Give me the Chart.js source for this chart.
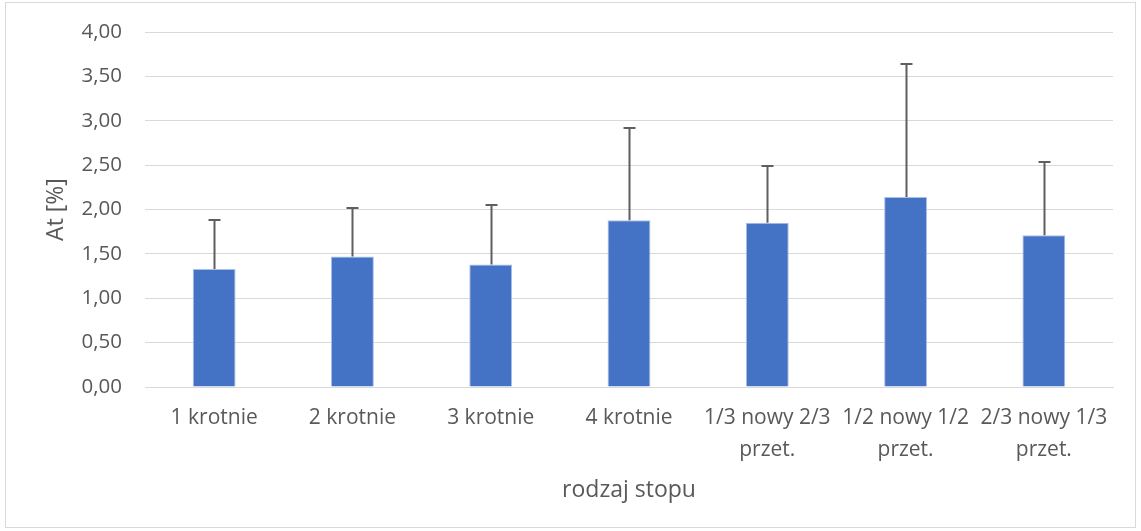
<!DOCTYPE html>
<html>
<head>
<meta charset="utf-8">
<script src="https://cdn.jsdelivr.net/npm/chart.js@4"></script>
<style>
html,body{margin:0;padding:0;background:#fff;}
#wrap{width:1141px;height:531px;position:relative;}
</style>
</head>
<body>
<div id="wrap"><canvas id="c" width="1141" height="531"></canvas></div>
<script>
const categories = [
  ["1 krotnie"], ["2 krotnie"], ["3 krotnie"], ["4 krotnie"],
  ["1/3 nowy 2/3", "przet."], ["1/2 nowy 1/2", "przet."], ["2/3 nowy 1/3", "przet."]
];
const values = [1.33, 1.47, 1.38, 1.88, 1.85, 2.14, 1.71];
const errorsPlus = [0.55, 0.55, 0.67, 1.04, 0.64, 1.50, 0.83];
const yTicks = [0, 0.5, 1, 1.5, 2, 2.5, 3, 3.5, 4];
const yTitle = "At [%]";
const xTitle = "rodzaj stopu";

const FONT = "'Open Sans', 'Liberation Sans', sans-serif";

const errorBarPlugin = {
  id: 'errorBars',
  afterDatasetsDraw(chart) {
    const ctx = chart.ctx;
    const meta = chart.getDatasetMeta(0);
    const ys = chart.scales.y;
    ctx.save();
    ctx.strokeStyle = '#5f5f5f';
    ctx.lineWidth = 2;
    meta.data.forEach((bar, i) => {
      const x = Math.round(bar.x) + 0.5;
      const y0 = ys.getPixelForValue(values[i]);
      const y1 = Math.round(ys.getPixelForValue(values[i] + errorsPlus[i]));
      ctx.beginPath();
      ctx.moveTo(x, y0);
      ctx.lineTo(x, y1);
      ctx.moveTo(x - 6, y1);
      ctx.lineTo(x + 6, y1);
      ctx.stroke();
    });
    ctx.restore();
  }
};

const framePlugin = {
  id: 'frame',
  beforeDraw(chart) {
    const ctx = chart.ctx;
    ctx.save();
    ctx.fillStyle = '#ffffff';
    ctx.fillRect(0, 0, chart.width, chart.height);
    ctx.strokeStyle = '#d9d9d9';
    ctx.lineWidth = 1;
    ctx.strokeRect(5.5, 2.5, 1130, 525);
    ctx.restore();
  }
};

new Chart(document.getElementById('c'), {
  type: 'bar',
  data: {
    labels: categories,
    datasets: [{
      data: values,
      backgroundColor: '#4472C4',
      borderColor: '#a9bfe6',
      borderWidth: 1,
      categoryPercentage: 1.0,
      barPercentage: 0.31
    }]
  },
  options: {
    responsive: false,
    animation: false,
    events: [],
    layout: { padding: { left: 43, right: 28, top: 32, bottom: 27 } },
    plugins: { legend: { display: false }, tooltip: { enabled: false } },
    scales: {
      x: {
        grid: { display: false, drawTicks: false },
        border: { display: true, color: '#d9d9d9', width: 1 },
        ticks: {
          color: '#595959',
          font: { family: FONT, size: 21, lineHeight: 1.52 },
          padding: 15,
          maxRotation: 0,
          autoSkip: false
        },
        title: {
          display: true,
          text: xTitle,
          color: '#595959',
          font: { family: FONT, size: 23 },
          padding: { top: 0, bottom: 0 }
        },
        afterFit(s) { s.height = 117; s.paddingLeft = 0; s.paddingRight = 0; }
      },
      y: {
        min: 0, max: 4,
        afterBuildTicks(s) { s.ticks = yTicks.map(v => ({ value: v })); },
        grid: { color: '#d9d9d9', lineWidth: 1, drawTicks: false },
        border: { display: false },
        ticks: {
          color: '#595959',
          font: { family: FONT, size: 20.5 },
          padding: 23,
          callback: (v) => Number(v).toFixed(2).replace('.', ',')
        },
        title: {
          display: true,
          text: yTitle,
          color: '#595959',
          font: { family: FONT, size: 23 },
          padding: { top: 0, bottom: 0 }
        },
        afterFit(s) { s.width = 102; s.paddingTop = 0; s.paddingBottom = 0; }
      }
    }
  },
  plugins: [framePlugin, errorBarPlugin]
});
</script>
</body>
</html>
